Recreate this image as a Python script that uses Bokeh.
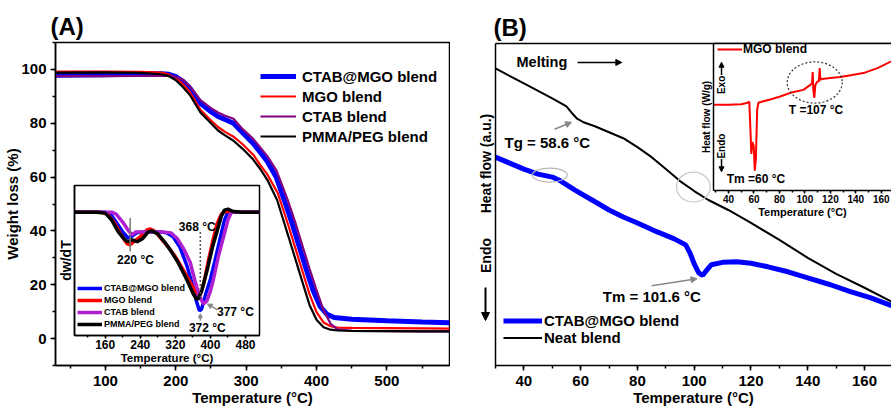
from math import pi
from bokeh.plotting import figure
from bokeh.models import (Range1d, SingleIntervalTicker, FixedTicker, Legend, LegendItem,
                          Label, Arrow, NormalHead, LinearAxis)
from bokeh.embed import file_html
from bokeh.resources import INLINE

FONT = "Liberation Sans"

# ---------------- Panel A : TGA ----------------
temp_ctab_mgo = [30, 100, 150, 180, 190, 200, 210, 220, 235, 250, 260, 270, 282, 295, 310, 320, 330, 343, 354, 365, 375, 385, 395, 405, 415, 425, 450, 500, 550, 589]
wt_ctab_mgo = [97.8, 98.0, 98.3, 98.4, 98.2, 97.3, 95.6, 93.0, 87.4, 84.3, 82.5, 81.4, 80.0, 76.5, 72.5, 69.2, 65.8, 59.8, 51.5, 43.0, 34.5, 26.0, 18.0, 12.0, 9.0, 7.8, 7.2, 6.6, 6.2, 5.9]
temp_mgo = [30, 100, 150, 180, 190, 200, 210, 220, 235, 250, 260, 270, 282, 295, 310, 320, 330, 345, 360, 370, 380, 390, 400, 410, 420, 430, 450, 500, 550, 589]
wt_mgo = [99.2, 99.2, 99.1, 98.8, 98.1, 96.9, 94.6, 91.6, 85.0, 81.0, 78.6, 76.8, 75.0, 72.2, 68.3, 64.5, 61.0, 54.0, 42.0, 33.5, 25.0, 16.5, 9.8, 6.0, 4.6, 4.1, 4.0, 3.9, 3.8, 3.7]
temp_ctab = [30, 100, 150, 180, 190, 200, 210, 220, 235, 250, 260, 270, 282, 295, 310, 320, 330, 343, 359, 370, 380, 390, 400, 410, 420, 430, 450, 500, 550, 589]
wt_ctab = [97.5, 97.5, 97.6, 97.7, 97.6, 97.2, 96.2, 93.8, 88.6, 85.6, 84.0, 82.8, 81.7, 77.8, 74.2, 71.0, 67.8, 62.5, 51.5, 43.0, 34.5, 26.0, 18.0, 10.5, 5.5, 3.4, 2.9, 2.8, 2.7, 2.7]
temp_pmma = [30, 100, 150, 180, 190, 200, 210, 220, 235, 250, 260, 270, 282, 295, 310, 320, 330, 344, 360, 370, 380, 390, 400, 410, 420, 430, 450, 500, 550, 589]
wt_pmma = [98.8, 98.9, 98.7, 98.2, 97.5, 96.0, 93.5, 90.5, 84.0, 80.0, 77.3, 75.5, 73.5, 70.5, 66.5, 63.0, 59.0, 51.5, 38.0, 29.5, 21.0, 12.5, 7.0, 4.2, 3.3, 3.0, 2.9, 2.8, 2.7, 2.7]

# inset A : DTG (dw/dT, arbitrary units)
dtg_T_ctab_mgo = [90, 160, 172, 185, 200, 212, 222, 232, 250, 270, 286, 300, 315, 330, 347, 360, 368, 375, 380, 390, 400, 410, 423, 432, 440, 512]
dtg_ctab_mgo = [0, 0, -0.02, -0.10, -0.20, -0.26, -0.24, -0.21, -0.20, -0.20, -0.20, -0.21, -0.25, -0.35, -0.55, -0.75, -0.90, -1.00, -0.98, -0.82, -0.68, -0.50, -0.25, -0.08, 0, 0]
dtg_T_mgo = [90, 150, 165, 180, 195, 210, 217, 225, 240, 255, 263, 275, 290, 305, 320, 340, 355, 365, 372, 378, 385, 395, 405, 415, 425, 435, 450, 512]
dtg_mgo = [0, 0, -0.02, -0.10, -0.22, -0.32, -0.33, -0.30, -0.25, -0.18, -0.17, -0.20, -0.28, -0.36, -0.45, -0.60, -0.72, -0.80, -0.83, -0.82, -0.72, -0.50, -0.30, -0.12, -0.02, 0.01, 0, 0]
dtg_T_ctab = [90, 175, 185, 200, 212, 221, 230, 240, 260, 290, 310, 325, 340, 354, 365, 375, 384, 392, 400, 407, 418, 430, 440, 448, 512]
dtg_ctab = [0, 0, -0.02, -0.10, -0.18, -0.23, -0.20, -0.20, -0.20, -0.20, -0.21, -0.27, -0.38, -0.51, -0.70, -0.85, -0.93, -0.90, -0.80, -0.68, -0.45, -0.25, -0.08, 0, 0]
dtg_T_pmma = [90, 140, 160, 175, 190, 205, 212, 222, 233, 245, 258, 267, 280, 295, 308, 325, 340, 350, 360, 368, 372, 380, 393, 405, 416, 425, 432, 440, 450, 470, 512]
dtg_pmma = [0, 0, -0.01, -0.08, -0.20, -0.28, -0.30, -0.28, -0.30, -0.27, -0.20, -0.19, -0.22, -0.30, -0.38, -0.50, -0.63, -0.72, -0.82, -0.88, -0.88, -0.80, -0.58, -0.35, -0.18, -0.04, 0.02, 0.03, 0.01, 0, 0]

# ---------------- Panel B : DSC ----------------
dsc_T_neat = [30, 40, 50, 55, 57, 58.6, 61, 65, 70, 75, 80, 85, 90, 95, 100, 105, 112, 120, 130, 140, 150, 160, 169.5]
dsc_neat = [29.8, 28.3, 26.8, 26.0, 25.3, 24.8, 24.4, 24.0, 23.4, 22.8, 21.9, 20.9, 19.7, 18.5, 17.5, 16.6, 15.6, 14.3, 12.6, 10.8, 9.2, 7.8, 6.4]
dsc_T_ctab_mgo = [30, 35, 40, 45, 50, 53, 58, 64, 70, 75, 80, 87, 93, 97, 98.5, 100, 101.6, 103, 104.5, 106, 110, 115, 120, 126, 133, 140, 148, 155, 162, 169.5]
dsc_ctab_mgo = [20.9, 20.3, 19.7, 19.2, 18.9, 18.5, 17.6, 16.6, 15.6, 14.9, 14.3, 13.4, 12.7, 12.1, 11.3, 10.2, 9.3, 9.05, 9.6, 10.1, 10.35, 10.4, 10.25, 9.9, 9.4, 8.8, 8.1, 7.4, 6.8, 6.0]

# inset B : MGO blend DSC (W/g, arbitrary offset)
dsc_T_mgo = [28.2, 40, 50, 55, 56.3, 57.2, 57.9, 58.8, 59.8, 60.6, 61.5, 62.5, 63.5, 66, 72, 80, 88.6, 98.8, 104.3, 105.6, 106.1, 106.6, 107.4, 108.2, 109.5, 111.0, 111.6, 112.2, 113.4, 120, 127.8, 137, 145.9, 157, 168]
dsc_mgo = [0, 0, 0.05, 0.2, 0.3, -2.5, -5.0, -3.8, -4.2, -6.7, -5.5, -0.5, 0.2, 0.3, 0.5, 0.8, 1.2, 1.5, 2.0, 2.2, 3.3, 1.5, 0.7, 2.0, 2.3, 2.4, 3.7, 2.5, 2.6, 2.7, 2.8, 3.0, 3.2, 3.7, 4.4]


def place(p, left, top):
    p.styles = {"position": "absolute", "left": f"{left}px", "top": f"{top}px"}


def style_axis(ax, tick_size, label_size, major_out=5, minor_out=3, lw=1.5):
    ax.axis_line_width = lw
    ax.axis_line_color = "black"
    ax.major_tick_line_width = lw
    ax.minor_tick_line_width = lw
    ax.major_tick_line_color = "black"
    ax.minor_tick_line_color = "black"
    ax.major_tick_in = 0
    ax.major_tick_out = major_out
    ax.minor_tick_in = 0
    ax.minor_tick_out = minor_out
    ax.major_label_text_font = FONT
    ax.major_label_text_font_style = "bold"
    ax.major_label_text_font_size = tick_size
    ax.major_label_text_color = "black"
    ax.axis_label_text_font = FONT
    ax.axis_label_text_font_style = "bold"
    ax.axis_label_text_font_size = label_size
    ax.axis_label_text_color = "black"


def base(p):
    p.xgrid.visible = False
    p.ygrid.visible = False
    p.background_fill_color = "white"
    p.outline_line_color = "black"
    p.outline_line_width = 1.5


def title(p, s, offset):
    p.title.text = s
    p.title.text_font = FONT
    p.title.text_font_size = "24px"
    p.title.text_font_style = "bold"
    p.title.text_color = "black"
    p.title.align = "left"
    p.title.offset = offset
    p.title.standoff = 6


def txt(p, x, y, s, size, align="center", angle=0.0, color="black"):
    p.add_layout(Label(x=x, y=y, text=s, text_font=FONT, text_font_size=size,
                       text_font_style="bold", text_align=align, text_baseline="middle",
                       angle=angle, text_color=color))


def arrow(p, x0, y0, x1, y1, color, lw=1.5, size=6):
    p.add_layout(Arrow(x_start=x0, y_start=y0, x_end=x1, y_end=y1, line_color=color,
                       line_width=lw, end=NormalHead(size=size, fill_color=color, line_color=color)))


def legend(items, loc, gw, gh, standoff, size):
    return Legend(items=[LegendItem(label=l, renderers=[r]) for l, r in items], location=loc,
                  glyph_width=gw, glyph_height=gh, label_height=gh, label_standoff=standoff,
                  spacing=0, padding=0, margin=0, border_line_color=None,
                  background_fill_alpha=0, label_text_font=FONT, label_text_font_style="bold",
                  label_text_font_size=size, label_text_color="black")


# ---------- main A ----------
pa = figure(width=450, height=408, x_range=Range1d(29, 589), y_range=Range1d(-10, 110),
            output_backend="svg", toolbar_location=None,
            min_border_left=55, min_border_right=1, min_border_top=42, min_border_bottom=42)
base(pa)
place(pa, 0, 0)
title(pa, "(A)", -5)
pa.xaxis.ticker = SingleIntervalTicker(interval=100, num_minor_ticks=2)
pa.yaxis.ticker = SingleIntervalTicker(interval=20, num_minor_ticks=2)
pa.xaxis.axis_label = "Temperature (°C)"
pa.yaxis.axis_label = "Weight loss (%)"
style_axis(pa.xaxis[0], "15px", "15px")
style_axis(pa.yaxis[0], "15px", "15px")
pa.xaxis.major_label_standoff = 5
pa.xaxis.axis_label_standoff = 0
pa.yaxis.major_label_standoff = 4
pa.yaxis.axis_label_standoff = -3

ra1 = pa.line(temp_ctab_mgo, wt_ctab_mgo, line_color="#0000FF", line_width=5)
ra2 = pa.line(temp_mgo, wt_mgo, line_color="#FF0000", line_width=2.2)
ra3 = pa.line(temp_ctab, wt_ctab, line_color="#800080", line_width=2.2)
ra4 = pa.line(temp_pmma, wt_pmma, line_color="#000000", line_width=2.2)
pa.add_layout(legend([("CTAB@MGO blend", ra1), ("MGO blend", ra2), ("CTAB blend", ra3),
                      ("PMMA/PEG blend", ra4)], (205, 219), 36, 20, 6, "15px"))

# ---------- inset A ----------
ia = figure(width=211, height=183, x_range=Range1d(90, 512), y_range=Range1d(-1.25, 0.27),
            output_backend="svg", toolbar_location=None,
            min_border_left=24, min_border_right=2, min_border_top=2, min_border_bottom=29)
base(ia)
ia.border_fill_color = None
place(ia, 50, 183)
ia.xaxis.ticker = SingleIntervalTicker(interval=80, num_minor_ticks=2)
ia.yaxis.ticker = FixedTicker(ticks=[])
ia.xaxis.axis_label = "Temperature (°C)"
ia.yaxis.axis_label = "dw/dT"
style_axis(ia.xaxis[0], "12px", "11.5px", major_out=3, minor_out=2)
style_axis(ia.yaxis[0], "12px", "14px", major_out=0, minor_out=0)
ia.xaxis.major_label_standoff = 1
ia.xaxis.axis_label_standoff = 0
ia.yaxis.major_label_standoff = 0
ia.yaxis.axis_label_standoff = 1

ri1 = ia.line(dtg_T_ctab_mgo, dtg_ctab_mgo, line_color="#0000FF", line_width=3.5)
ri2 = ia.line(dtg_T_mgo, dtg_mgo, line_color="#FF0000", line_width=3.5)
ri3 = ia.line(dtg_T_ctab, dtg_ctab, line_color="#B020D0", line_width=3.5)
ri4 = ia.line(dtg_T_pmma, dtg_pmma, line_color="#000000", line_width=3.5)
ia.segment(x0=[217], y0=[-0.06], x1=[217], y1=[-0.40], line_color="#777777", line_width=1.5)
ia.segment(x0=[377], y0=[-0.20], x1=[377], y1=[-0.86], line_color="#555555", line_width=1.5,
           line_dash="2 2")
txt(ia, 229, -0.48, "220 °C", "12px")
txt(ia, 370, -0.15, "368 °C", "12px")
txt(ia, 457, -1.01, "377 °C", "12px")
txt(ia, 393, -1.17, "372 °C", "12px")
arrow(ia, 416, -0.99, 393, -0.93, "#888888", lw=1.5, size=5)
arrow(ia, 377, -1.10, 377, -1.03, "#888888", lw=1.5, size=4)
ia.add_layout(legend([("CTAB@MGO blend", ri1), ("MGO blend", ri2), ("CTAB blend", ri3),
                      ("PMMA/PEG blend", ri4)], (3, 5), 25, 12, 2, "9px"))

# ---------- main B ----------
pb = figure(width=431, height=408, x_range=Range1d(30, 169.5), y_range=Range1d(0, 32.3),
            output_backend="svg", toolbar_location=None,
            min_border_left=35, min_border_right=0, min_border_top=43, min_border_bottom=42)
base(pb)
pb.outline_line_color = None
place(pb, 460, 0)
title(pb, "(B)", -2)
pb.xaxis.ticker = SingleIntervalTicker(interval=20, num_minor_ticks=2)
pb.yaxis.ticker = FixedTicker(ticks=[])
pb.xaxis.axis_label = "Temperature (°C)"
style_axis(pb.xaxis[0], "15px", "15px")
style_axis(pb.yaxis[0], "15px", "15px", major_out=0, minor_out=0)
pb.xaxis.major_label_standoff = 5
pb.xaxis.axis_label_standoff = 0
top_b = LinearAxis(ticker=FixedTicker(ticks=[]), axis_line_width=1.5, major_tick_out=0,
                   minor_tick_out=0)
pb.add_layout(top_b, "above")

rb1 = pb.line(dsc_T_ctab_mgo, dsc_ctab_mgo, line_color="#0000FF", line_width=5)
rb2 = pb.line(dsc_T_neat, dsc_neat, line_color="#000000", line_width=2)
pb.ellipse(x=[49.1], y=[19.1], width=[12.35], height=[1.4], fill_color=None,
           line_color="#b8b8b8", line_width=1.2)
pb.ellipse(x=[99.7], y=[17.9], width=[11.9], height=[3.0], fill_color=None,
           line_color="#c8c8c8", line_width=1.2)
txt(pb, 37.4, 30.4, "Melting", "14.5px", align="left")
arrow(pb, 58.9, 30.4, 74.5, 30.4, "black", lw=1.5, size=6)
txt(pb, 33.2, 22.4, "Tg = 58.6 °C", "15px", align="left")
arrow(pb, 50.8, 23.7, 56.8, 24.4, "#888888", lw=1.5, size=6)
txt(pb, 67.8, 6.9, "Tm = 101.6 °C", "15px", align="left")
arrow(pb, 85, 8.0, 101, 8.7, "#888888", lw=1.5, size=6)
pb.add_layout(legend([("CTAB@MGO blend", rb1), ("Neat blend", rb2)], (8, 19), 39, 17, 2, "15px"))

# ---------- B y-axis title strip (same vertical scale as main B) ----------
yb = figure(width=25, height=323, x_range=Range1d(0, 1), y_range=Range1d(0, 32.3),
            output_backend="svg", toolbar_location=None,
            min_border_left=0, min_border_right=0, min_border_top=0, min_border_bottom=0)
yb.xaxis.visible = False
yb.yaxis.visible = False
yb.xgrid.visible = False
yb.ygrid.visible = False
yb.outline_line_color = None
yb.background_fill_color = None
yb.border_fill_color = None
place(yb, 471, 43)
txt(yb, 0.56, 20.3, "Heat flow (a.u.)", "14px", angle=pi / 2)
txt(yb, 0.56, 11.1, "Endo", "14px", angle=pi / 2)
arrow(yb, 0.56, 7.9, 0.56, 4.6, "black", lw=2, size=8)

# ---------- inset B ----------
ib = figure(width=201, height=180, x_range=Range1d(28.2, 168), y_range=Range1d(-8.7, 6.2),
            output_backend="svg", toolbar_location=None,
            min_border_left=23, min_border_right=0, min_border_top=3, min_border_bottom=28)
base(ib)
ib.outline_line_color = None
ib.border_fill_color = None
place(ib, 690, 40)
ib.xaxis.ticker = SingleIntervalTicker(interval=20, num_minor_ticks=2)
ib.yaxis.ticker = FixedTicker(ticks=[])
ib.xaxis.axis_label = "Temperature (°C)"
ib.yaxis.axis_label = "Heat flow (W/g)"
style_axis(ib.xaxis[0], "10px", "11px", major_out=3, minor_out=2)
style_axis(ib.yaxis[0], "10px", "10px", major_out=0, minor_out=0)
ib.xaxis.major_label_standoff = 1
ib.xaxis.axis_label_standoff = 0
ib.yaxis.major_label_standoff = 0
ib.yaxis.axis_label_standoff = 2
top_ib = LinearAxis(ticker=FixedTicker(ticks=[]), axis_line_width=1.5, major_tick_out=0,
                    minor_tick_out=0)
ib.add_layout(top_ib, "above")

rc1 = ib.line(dsc_T_mgo, dsc_mgo, line_color="#FF0000", line_width=2)
ib.ellipse(x=[107.7], y=[2.25], width=[43.2], height=[4.17], fill_color=None,
           line_color="#333333", line_width=1.2, line_dash="2 2")
txt(ib, 108.7, -0.5, "T =107 °C", "12px")
txt(ib, 61.6, -7.5, "Tm =60 °C", "12px")
txt(ib, 34.5, 2.0, "Exo", "10px", angle=pi / 2)
txt(ib, 34.5, -4.2, "Endo", "10px", angle=pi / 2)
arrow(ib, 34.5, 3.0, 34.5, 4.3, "black", lw=1.5, size=5)
arrow(ib, 34.5, -5.5, 34.5, -6.8, "black", lw=1.5, size=5)
ib.add_layout(legend([("MGO blend", rc1)], (4, 134), 25, 14, 1, "12px"))

open("out.html", "w").write(file_html([pa, pb, yb, ia, ib], INLINE))
